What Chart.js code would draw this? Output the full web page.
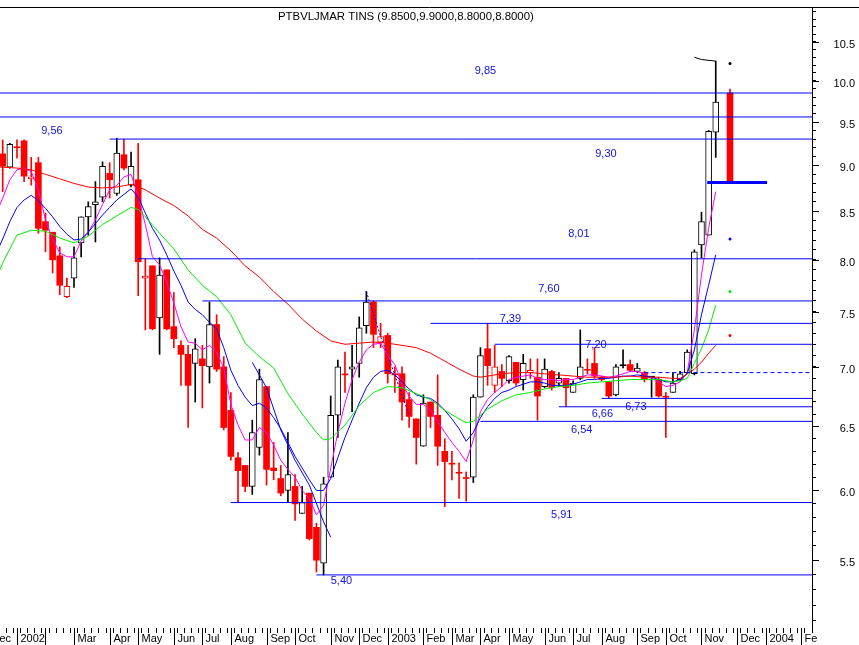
<!DOCTYPE html>
<html>
<head>
<meta charset="utf-8">
<title>PTBVLJMAR TINS</title>
<script src="https://cdn.jsdelivr.net/npm/chart.js@4.4.1/dist/chart.umd.min.js"></script>
<style>
  html, body { margin: 0; padding: 0; background: #fff; }
  #wrap { position: relative; width: 859px; height: 645px; }
</style>
</head>
<body>
<div id="wrap"><canvas id="chart" width="859" height="645"></canvas></div>
<script>
// Weekly bars. Week 0 = first week of Jan 2002, one bar per week.
const firstWeek = -2;
const opens = [9.13, 8.98, 9.20, 9.28, 8.85, 9.03, 8.39, 8.28, 8.04, 7.64,
  7.82, 8.17, 8.44, 8.57, 8.65, 8.91, 8.69, 9.12, 8.78, 8.84,
  7.82, 7.94, 7.44, 7.90, 7.36, 7.19, 7.11, 7.03, 7.07, 7.00,
  7.38, 7.00, 6.63, 6.25, 6.19, 6.03, 6.33, 6.83, 6.17, 6.09,
  6.00, 6.03, 5.83, 5.98, 5.73, 5.48, 6.10, 6.59, 6.93, 6.98,
  7.03, 7.37, 7.59, 7.22, 7.28, 6.93, 6.94, 6.72, 6.56, 6.34,
  6.70, 6.59, 6.30, 6.20, 6.13, 6.09, 6.10, 6.74, 7.16, 6.84,
  6.96, 6.88, 7.04, 6.89, 6.95, 6.91, 6.83, 6.96, 6.86, 6.90,
  6.78, 6.90, 6.97, 7.03, 6.91, 6.87, 6.76, 7.01, 7.02, 6.96,
  6.95, 6.91, 6.89, 6.74, 6.78, 6.89, 6.95, 6.94, 8.15, 8.25,
  9.38, null, 9.85];
const highs = [9.29, 9.25, 9.29, 9.29, 9.09, 9.09, 8.48, 8.28, 8.13, 7.82,
  8.13, 8.44, 8.60, 8.82, 9.04, 9.03, 9.31, 9.30, 9.15, 9.25,
  8.01, 7.94, 8.02, 7.90, 7.68, 7.23, 7.19, 7.25, 7.19, 7.59,
  7.47, 7.09, 6.78, 6.29, 6.19, 6.55, 6.98, 6.83, 6.37, 6.19,
  6.45, 6.12, 6.03, 5.98, 5.76, 6.10, 6.75, 7.06, 7.13, 7.19,
  7.45, 7.69, 7.60, 7.39, 7.30, 7.00, 7.00, 6.78, 6.56, 6.76,
  6.70, 6.93, 6.40, 6.30, 6.21, 6.14, 6.76, 7.17, 7.39, 7.19,
  7.02, 7.10, 7.04, 7.11, 7.07, 7.07, 7.07, 6.97, 6.95, 6.90,
  6.88, 7.33, 7.07, 7.17, 6.92, 6.87, 7.02, 7.15, 7.06, 7.03,
  6.96, 6.91, 6.91, 6.78, 6.95, 6.96, 7.15, 8.10, 8.49, 9.40,
  10.25, null, 9.90];
const lows = [8.71, 8.97, 9.08, 8.82, 8.78, 8.27, 8.08, 7.87, 7.66, 7.63,
  7.73, 8.03, 8.25, 8.18, 8.60, 8.64, 8.67, 8.95, 8.76, 7.65,
  7.33, 7.33, 7.11, 7.33, 7.17, 6.84, 6.49, 6.70, 6.65, 6.86,
  6.96, 6.47, 6.23, 5.91, 5.99, 5.97, 6.27, 6.04, 6.08, 5.96,
  5.91, 5.78, 5.83, 5.64, 5.42, 5.40, 6.10, 6.41, 6.78, 6.62,
  6.91, 7.30, 7.17, 7.17, 6.86, 6.78, 6.55, 6.49, 6.20, 6.34,
  6.49, 6.19, 5.88, 6.08, 5.94, 5.92, 6.06, 6.74, 6.84, 6.78,
  6.83, 6.86, 6.84, 6.80, 6.90, 6.55, 6.82, 6.80, 6.83, 6.66,
  6.78, 6.89, 6.94, 6.90, 6.88, 6.73, 6.75, 6.99, 6.96, 6.95,
  6.87, 6.74, 6.74, 6.41, 6.78, 6.88, 6.94, 6.93, 8.02, 8.25,
  9.09, null, 8.80];
const closes = [8.99, 9.24, 9.20, 8.88, 8.87, 8.32, 8.30, 8.00, 7.75, 7.74,
  8.02, 8.44, 8.55, 8.60, 8.99, 8.84, 9.14, 8.97, 8.99, 7.98,
  7.84, 7.34, 7.85, 7.34, 7.25, 7.11, 6.84, 7.16, 7.01, 7.38,
  6.98, 6.49, 6.26, 6.15, 6.03, 6.45, 6.89, 6.16, 6.15, 5.98,
  6.12, 5.90, 5.91, 5.65, 5.50, 6.05, 6.59, 7.00, 6.93, 7.00,
  7.35, 7.59, 7.29, 7.27, 6.94, 6.93, 6.70, 6.58, 6.41, 6.69,
  6.58, 6.34, 6.22, 6.20, 6.13, 6.09, 6.74, 7.10, 7.01, 7.00,
  6.90, 7.09, 6.86, 7.03, 6.97, 6.75, 6.98, 6.82, 6.90, 6.82,
  6.86, 7.00, 6.97, 6.92, 6.89, 6.75, 7.00, 7.01, 6.97, 6.99,
  6.89, 6.91, 6.75, 6.74, 6.86, 6.94, 7.13, 8.08, 8.39, 9.39,
  9.74, null, 8.80];

// moving averages, first value is week -3
const maFirstWeek = -3;
const maMagenta = [8.46, 8.64, 8.84, 8.95, 8.97, 8.93, 8.73, 8.41, 8.21, 8.07,
  8.03, 8.03, 8.19, 8.28, 8.41, 8.57, 8.73, 8.78, 8.87, 8.90,
  8.66, 8.36, 8.03, 7.95, 7.78, 7.58, 7.36, 7.22, 7.21, 7.15,
  7.19, 7.13, 6.99, 6.68, 6.51, 6.39, 6.39, 6.49, 6.45, 6.35,
  6.23, 6.16, 6.10, 6.00, 5.94, 5.82, 5.89, 6.17, 6.45, 6.69,
  6.89, 7.04, 7.15, 7.20, 7.21, 7.10, 7.02, 6.85, 6.75, 6.68,
  6.68, 6.63, 6.54, 6.45, 6.37, 6.30, 6.22, 6.39, 6.62, 6.72,
  6.78, 6.83, 6.89, 6.91, 6.92, 6.93, 6.90, 6.89, 6.89, 6.88,
  6.89, 6.89, 6.91, 6.93, 6.93, 6.92, 6.91, 6.92, 6.94, 6.96,
  6.96, 6.94, 6.90, 6.87, 6.83, 6.84, 6.87, 6.95, 7.33, 7.85,
  8.32, 8.71];
const maBlue = [8.05, 8.21, 8.39, 8.54, 8.62, 8.67, 8.61, 8.53, 8.44, 8.34,
  8.26, 8.20, 8.21, 8.28, 8.37, 8.46, 8.54, 8.62, 8.68, 8.74,
  8.65, 8.48, 8.32, 8.20, 8.05, 7.89, 7.75, 7.59, 7.52, 7.47,
  7.40, 7.34, 7.17, 6.97, 6.84, 6.74, 6.67, 6.69, 6.65, 6.57,
  6.48, 6.37, 6.26, 6.17, 6.08, 6.00, 6.00, 6.09, 6.25, 6.41,
  6.55, 6.69, 6.82, 6.91, 6.96, 6.97, 6.93, 6.87, 6.81, 6.76,
  6.74, 6.73, 6.69, 6.63, 6.56, 6.48, 6.38, 6.45, 6.57, 6.66,
  6.73, 6.78, 6.80, 6.83, 6.85, 6.87, 6.87, 6.86, 6.84, 6.84,
  6.84, 6.85, 6.87, 6.89, 6.89, 6.90, 6.90, 6.91, 6.92, 6.92,
  6.93, 6.92, 6.91, 6.89, 6.87, 6.87, 6.89, 6.94, 7.15, 7.47,
  7.75, 8.05, null, 8.21];
const maGreen = [[-3, 7.80], [-2, 7.97], [0, 8.25], [2, 8.30], [4, 8.29], [6, 8.22],
  [8, 8.17], [10, 8.24], [12, 8.36], [14, 8.45], [16, 8.54], [17, 8.52], [18, 8.44],
  [20, 8.27], [22, 8.11], [24, 7.90], [26, 7.75], [28, 7.64], [30, 7.47], [32, 7.21],
  [34, 7.09], [36, 6.99], [38, 6.77], [40, 6.60], [42, 6.45], [43, 6.39], [44, 6.40],
  [46, 6.51], [48, 6.67], [50, 6.78], [52, 6.83], [54, 6.82], [56, 6.77], [58, 6.72],
  [60, 6.63], [62, 6.56], [63, 6.53], [64, 6.54], [66, 6.64], [68, 6.71], [70, 6.76],
  [72, 6.78], [74, 6.81], [76, 6.83], [78, 6.84], [80, 6.86], [82, 6.87], [84, 6.88],
  [86, 6.89], [88, 6.89], [90, 6.89], [92, 6.87], [93, 6.88], [94, 6.90], [95, 7.03],
  [96, 7.16], [97, 7.33], [98, 7.56], [99, null], [100, 7.69]];
const maRed = [[-3, 8.98], [-2, 8.98], [0, 8.97], [2, 8.95], [4, 8.90], [6, 8.85],
  [8, 8.80], [10, 8.76], [12, 8.75], [14, 8.76], [16, 8.79], [17, 8.76], [18, 8.73],
  [20, 8.64], [22, 8.56], [24, 8.45], [26, 8.31], [28, 8.22], [30, 8.09], [32, 7.94],
  [34, 7.83], [36, 7.69], [38, 7.57], [40, 7.43], [42, 7.32], [44, 7.23], [46, 7.20],
  [48, 7.21], [50, 7.22], [52, 7.21], [54, 7.19], [56, 7.17], [58, 7.12], [60, 7.05],
  [62, 6.98], [64, 6.92], [65, 6.91], [66, 6.92], [68, 6.94], [70, 6.95], [72, 6.95],
  [74, 6.94], [76, 6.93], [78, 6.92], [80, 6.91], [82, 6.91], [84, 6.91], [86, 6.92],
  [88, 6.91], [90, 6.91], [92, 6.90], [93, 6.90], [94, 6.94], [95, 6.98], [96, 7.04],
  [97, 7.12], [98, 7.19], [99, null], [100, 7.28]];
const upperBlack = [[95, 10.30], [96, 10.27], [98, 10.25], [99, null], [100, 10.22]];
const blueSegment = [[33, 7.04], [35, 6.82], [37, 6.47], [39, 6.23], [41, 6.04], [43, 5.77], [44, 5.66]];
const blueDotted = [[49, 7.69], [51, 7.27], [53, 6.93], [55, 6.59]];

// horizontal levels: value, first week, label text and label anchor
const levelValues = [9.85, 9.56, 9.30, 8.01, 7.60, 7.39, 7.20, 6.73, 6.66, 6.54, 5.91, 5.40];
const levelStarts = [-3, -3, 13, 17, 26, 58, 67, 82, 76, 65, 30, 42];
const levelTexts = ['9,85', '9,56', '9,30', '8,01', '7,60', '7,39', '7,20', '6,73', '6,66', '6,54', '5,91', '5,40'];
const labelWeeks = [64.2, 3.4, 81.1, 77.3, 73.1, 67.7, 79.7, 85.3, 80.6, 77.7, 74.9, 44.0];
const labelValues = [10.12, 9.395, 9.13, 8.26, 7.71, 7.43, 7.19, 6.66, 6.60, 6.47, 5.82, 5.36];
const dashedLevel = [[88, 6.95], [112, 6.95]];
const closeMarker = [[96.8, 8.81], [105.2, 8.81]];

// x axis month labels (week of first bar in month)
const monthWeeks = [-4, 0, 4, 8, 13, 17, 22, 26, 30, 35, 39, 44, 48, 52, 57, 61, 65, 69, 74, 78, 82, 87, 91, 96, 101, 105, 110];
const monthNames = ['Dec', '2002', '', 'Mar', 'Apr', 'May', 'Jun', 'Jul', 'Aug', 'Sep', 'Oct', 'Nov', 'Dec',
  '2003', 'Feb', 'Mar', 'Apr', 'May', 'Jun', 'Jul', 'Aug', 'Sep', 'Oct', 'Nov', 'Dec', '2004', 'Fe'];
const yTickLabels = ['5.5', '6.0', '6.5', '7.0', '7.5', '8.0', '8.5', '9.0', '9.5', '10.0', '10.5'];
const titleText = 'PTBVLJMAR TINS (9.8500,9.9000,8.8000,8.8000)';

const yMin = 5.054, yMax = 10.952;
const xMin = -2.38, xMax = 111.5;
const AREA = { left: 0, top: 8, right: 812, bottom: 628 };
const FONT = "'Liberation Sans', Arial, sans-serif";
const RED = '#ff0000', BLACK = '#000000', BLUE = '#0000ff';

// build candles and their colours
const candles = [];
let prevClose = null;
opens.forEach((o, k) => {
  if (o == null) return;
  const c = closes[k];
  const ref = prevClose == null ? o : prevClose;
  candles.push({ week: firstWeek + k, o, h: highs[k], l: lows[k], c,
    color: c < ref ? RED : BLACK, hollow: c > o });
  prevClose = c;
});
const filled = candles.filter(cd => !cd.hollow);
const hollow = candles.filter(cd => cd.hollow);

function pairs(list) {
  return list.map(p => ({ x: p[0], y: p[1] }));
}
function series(values, start) {
  return values.map((v, k) => ({ x: start + k, y: v }));
}
function dotAfterGap(ctx) {
  const d = ctx.dataset.data;
  const k = ctx.dataIndex;
  return (k > 0 && d[k - 1].y == null && d[k].y != null) ? 1.5 : 0;
}
function lineSet(data, color, extra) {
  return Object.assign({
    type: 'line', data, borderColor: color, backgroundColor: color,
    borderWidth: 1, pointRadius: dotAfterGap, pointBorderWidth: 0,
    tension: 0, spanGaps: false, order: 0, fill: false
  }, extra || {});
}

const datasets = [];
levelValues.forEach((v, k) => {
  datasets.push(lineSet([{ x: levelStarts[k], y: v }, { x: 112, y: v }], BLUE));
});
datasets.push(lineSet(pairs(dashedLevel), BLUE, { borderDash: [4, 3] }));
datasets.push(lineSet(pairs(closeMarker), BLUE, { borderWidth: 3 }));
datasets.push(lineSet(pairs(maRed), RED));
datasets.push(lineSet(pairs(maGreen), '#00ee00'));
datasets.push(lineSet(series(maBlue, maFirstWeek), BLUE));
datasets.push(lineSet(series(maMagenta, maFirstWeek), '#ff00ff'));
datasets.push(lineSet(pairs(upperBlack), BLACK));
datasets.push(lineSet(pairs(blueSegment), BLUE));
datasets.push(lineSet(pairs(blueDotted), BLUE, { borderDash: [2, 2] }));

datasets.push({
  type: 'bar', order: 1, grouped: false, barThickness: 6, minBarLength: 1,
  data: filled.map(cd => ({ x: cd.week, y: [cd.o, cd.c] })),
  backgroundColor: filled.map(cd => cd.color),
  borderColor: filled.map(cd => cd.color),
  borderWidth: 0, borderSkipped: false
});
datasets.push({
  type: 'bar', order: 1, grouped: false, barThickness: 6, minBarLength: 1,
  data: hollow.map(cd => ({ x: cd.week, y: [cd.o, cd.c] })),
  backgroundColor: '#ffffff',
  borderColor: hollow.map(cd => cd.color),
  borderWidth: 1, borderSkipped: false
});
datasets.push({
  type: 'bar', order: 2, grouped: false, barThickness: 1, minBarLength: 1,
  data: candles.map(cd => ({ x: cd.week, y: [cd.l, cd.h] })),
  backgroundColor: candles.map(cd => cd.color),
  borderWidth: 0
});

const decor = {
  id: 'decor',
  afterDatasetsDraw(chart) {
    const { ctx, scales: { x, y } } = chart;
    ctx.save();
    ctx.font = '11px ' + FONT;
    ctx.fillStyle = '#1010e0';
    ctx.textAlign = 'left';
    ctx.textBaseline = 'middle';
    levelTexts.forEach((t, k) => {
      ctx.fillText(t, x.getPixelForValue(labelWeeks[k]), y.getPixelForValue(labelValues[k]));
    });
    ctx.restore();
  },
  afterDraw(chart) {
    const { ctx, chartArea, scales: { x, y } } = chart;
    ctx.save();
    ctx.strokeStyle = '#000';
    ctx.fillStyle = '#000';
    ctx.lineWidth = 1;
    // top frame line
    ctx.beginPath();
    ctx.moveTo(0, chartArea.top - 0.5);
    ctx.lineTo(chart.width, chartArea.top - 0.5);
    ctx.stroke();
    // longer ticks and labels at labelled prices
    ctx.font = '11px ' + FONT;
    ctx.textAlign = 'right';
    ctx.textBaseline = 'middle';
    yTickLabels.forEach(t => {
      const py = Math.round(y.getPixelForValue(parseFloat(t))) + 0.5;
      ctx.beginPath();
      ctx.moveTo(chartArea.right, py);
      ctx.lineTo(chartArea.right + 7, py);
      ctx.stroke();
      ctx.fillText(t, chartArea.right + 43, py + 2);
    });
    // month separators and names
    ctx.textAlign = 'left';
    ctx.textBaseline = 'alphabetic';
    monthWeeks.forEach((w, k) => {
      const px = Math.round(x.getPixelForValue(w)) + 0.5;
      ctx.beginPath();
      ctx.moveTo(px, chartArea.bottom);
      ctx.lineTo(px, chart.height);
      ctx.stroke();
      if (monthNames[k]) ctx.fillText(monthNames[k], px + 3, chart.height - 3);
    });
    // title
    ctx.font = '11.4px ' + FONT;
    ctx.fillText(titleText, 278, 20);
    ctx.restore();
  }
};

const weekTicks = [];
for (let w = Math.ceil(xMin); w <= Math.floor(xMax); w++) weekTicks.push(w);
const priceTicks = [];
for (let v = 51; v < yMax * 10; v++) priceTicks.push(v / 10);

const chart = new Chart(document.getElementById('chart'), {
  type: 'bar',
  data: { datasets },
  options: {
    responsive: false,
    animation: false,
    events: [],
    layout: { autoPadding: false, padding: { top: AREA.top, left: 0, right: 0, bottom: 0 } },
    plugins: { legend: { display: false }, tooltip: { enabled: false }, title: { display: false } },
    scales: {
      x: {
        type: 'linear', min: xMin, max: xMax, offset: false,
        afterBuildTicks: s => { s.ticks = weekTicks.map(v => ({ value: v })); },
        afterFit: s => { s.height = 645 - AREA.bottom; },
        grid: { display: true, drawOnChartArea: false, drawTicks: true, tickLength: 5, color: '#000', tickColor: '#000' },
        border: { display: false },
        ticks: { display: false, autoSkip: false }
      },
      y: {
        type: 'logarithmic', position: 'right', min: yMin, max: yMax,
        afterBuildTicks: s => { s.ticks = priceTicks.map(v => ({ value: v })); },
        afterFit: s => { s.width = 859 - AREA.right; },
        grid: { display: true, drawOnChartArea: false, drawTicks: true, tickLength: 4, color: '#000', tickColor: '#000' },
        border: { display: true, color: '#000', width: 1 },
        ticks: { display: false, autoSkip: false }
      }
    }
  },
  plugins: [decor]
});

// pull the plot area back to the reference frame if the layout shifted it
const ca = chart.chartArea;
if (Math.abs(ca.left - AREA.left) > 0.5 || Math.abs(ca.top - AREA.top) > 0.5 ||
    Math.abs(ca.right - AREA.right) > 0.5 || Math.abs(ca.bottom - AREA.bottom) > 0.5) {
  chart.options.layout.padding = {
    left: AREA.left - ca.left,
    top: AREA.top + (AREA.top - ca.top),
    right: ca.right - AREA.right,
    bottom: ca.bottom - AREA.bottom
  };
  chart.update();
}
</script>
</body>
</html>
